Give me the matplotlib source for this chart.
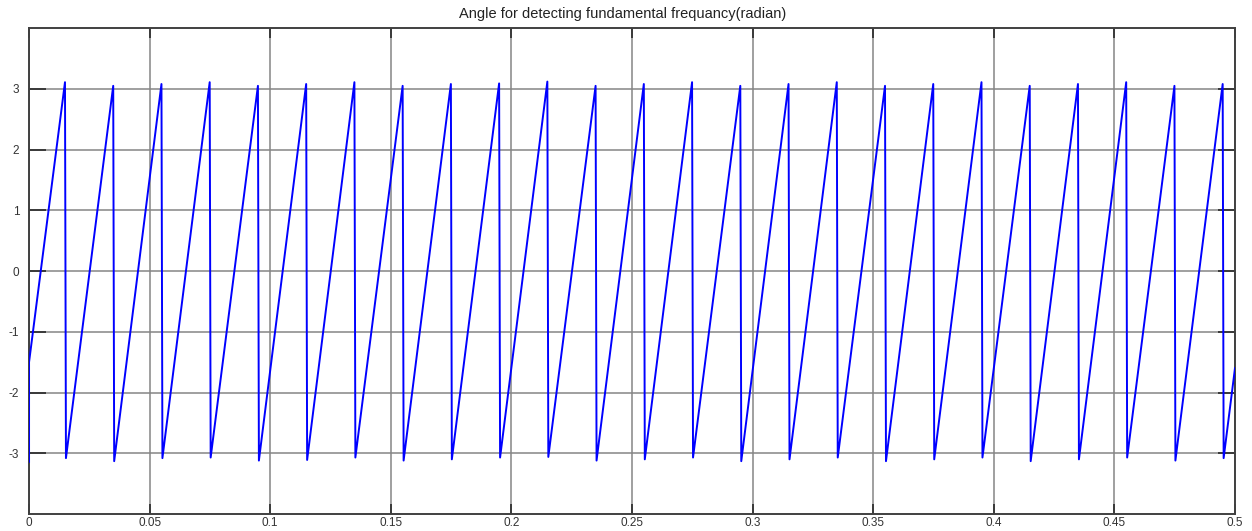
import numpy as np
import matplotlib
matplotlib.use("Agg")
import matplotlib.pyplot as plt

plt.rcParams['font.family'] = ['Liberation Sans', 'DejaVu Sans']
plt.rcParams['axes.unicode_minus'] = False

# peak instants of the wrapped phase (s) and the values just before / after the wrap
peak_t = [0.0149, 0.0349, 0.0549, 0.0749, 0.0949, 0.1149, 0.1349, 0.1549, 0.1749,
          0.1949, 0.2149, 0.2349, 0.2549, 0.2749, 0.2949, 0.3149, 0.3349, 0.3549,
          0.3749, 0.3949, 0.4149, 0.4349, 0.4549, 0.4749, 0.4949]
peak_v = [3.11, 3.05, 3.08, 3.11, 3.05, 3.08, 3.11, 3.05, 3.08,
          3.09, 3.12, 3.05, 3.08, 3.11, 3.05, 3.08, 3.11, 3.05,
          3.08, 3.11, 3.05, 3.08, 3.11, 3.05, 3.08]
trough_v = [-3.08, -3.13, -3.08, -3.07, -3.12, -3.11, -3.07, -3.12, -3.10,
            -3.07, -3.06, -3.12, -3.10, -3.07, -3.13, -3.10, -3.07, -3.13,
            -3.10, -3.07, -3.13, -3.10, -3.07, -3.12, -3.08]
start_t = [0.0, 0.0]
start_v = [-3.14, -1.50]
end_t = [0.5]
end_v = [-1.60]
wrap_dt = 0.0004

xticks = [0, 0.05, 0.1, 0.15, 0.2, 0.25, 0.3, 0.35, 0.4, 0.45, 0.5]
xlabels = ['0', '0.05', '0.1', '0.15', '0.2', '0.25', '0.3', '0.35', '0.4', '0.45', '0.5']
yticks = [-3, -2, -1, 0, 1, 2, 3]

t = list(start_t)
v = list(start_v)
for pt, pv, tv in zip(peak_t, peak_v, trough_v):
    t += [pt, pt + wrap_dt]
    v += [pv, tv]
t += end_t
v += end_v

fig = plt.figure(figsize=(12.52, 5.31), dpi=100)
ax = fig.add_axes([0.0232, 0.032, 0.9632, 0.915])
ax.plot(t, v, color='#0000ff', linewidth=1.4, zorder=3)

ax.set_xlim(0, 0.5)
ax.set_ylim(-4, 4)
ax.set_xticks(xticks)
ax.set_xticklabels(xlabels)
ax.set_yticks(yticks)
ax.grid(True, color='#858585', linewidth=1.1, linestyle='-', zorder=1)
ax.tick_params(axis='both', direction='in', top=True, right=True,
               labelsize=8.5, labelcolor='#333333', color='#3a3a3a', width=1.4)
ax.tick_params(axis='x', length=7, pad=2)
ax.tick_params(axis='y', length=12, pad=7)
for s in ax.spines.values():
    s.set_color('#404040')
    s.set_linewidth(1.4)
ax.set_title('Angle for detecting fundamental frequancy(radian)', fontsize=10.5,
             color='#222222', pad=7, x=0.492)

fig.savefig('out.png', dpi=100)
